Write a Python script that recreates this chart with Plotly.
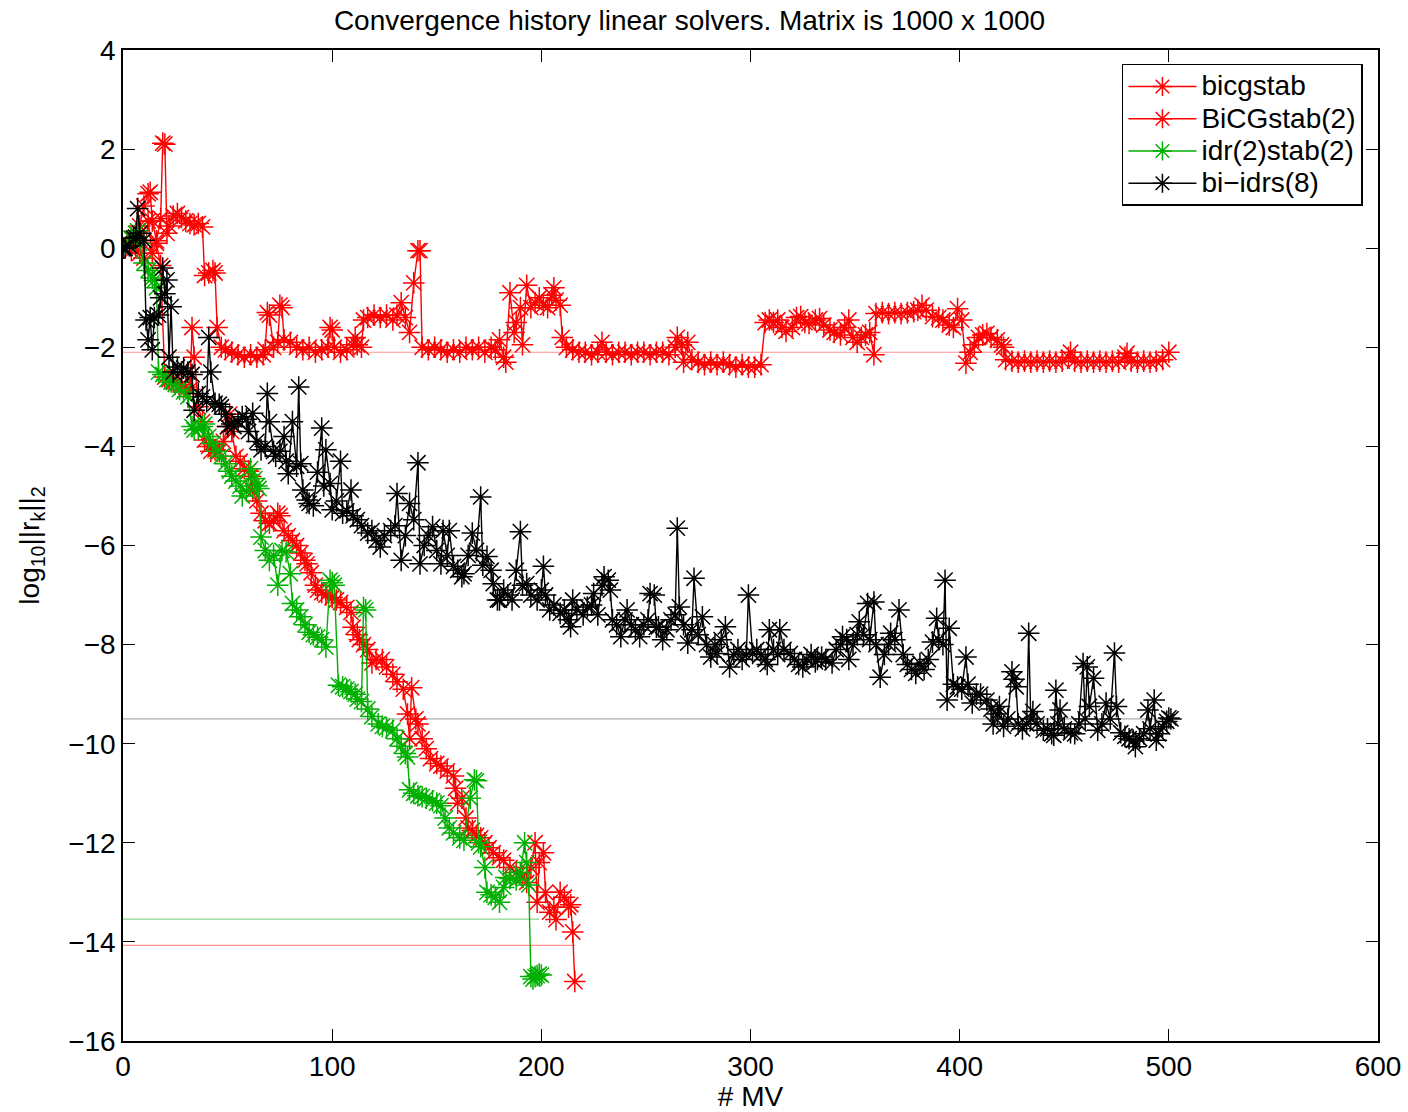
import plotly.graph_objects as go

# ---------------- data ----------------
bicgstab_mv = [0, 2, 4, 6, 8, 10, 12, 13, 14, 16, 18, 19, 20, 21, 22, 24, 26, 28, 30, 32, 34, 36, 38, 39, 41, 43, 44, 45, 47, 49,
               52, 55, 58, 61, 64, 67, 68, 69, 70, 72, 74, 75, 76, 77, 80, 83, 86, 89, 92, 95, 98, 99, 100, 101, 104, 107, 110, 111, 112, 114,
               115, 117, 120, 123, 126, 129, 131, 133, 135, 137, 139, 141, 142, 143, 146, 149, 152, 155, 158, 161, 164, 167, 170, 173, 176, 178, 180, 182, 183, 185,
               187, 188, 190, 191, 193, 195, 197, 199, 201, 203, 205, 206, 207, 209, 210, 212, 215, 218, 221, 224, 227, 229, 231, 234, 237, 240, 243, 246, 249, 252,
               255, 258, 261, 264, 265, 267, 268, 270, 272, 275, 278, 281, 284, 287, 290, 293, 296, 299, 302, 305, 307, 309, 311, 313, 315, 317, 320, 322, 324, 326,
               328, 331, 333, 335, 338, 340, 343, 345, 347, 349, 351, 353, 355, 357, 359, 360, 363, 366, 369, 372, 375, 378, 380, 382, 384, 387, 390, 392, 395, 397,
               399, 401, 403, 405, 407, 409, 411, 413, 415, 418, 420, 421, 422, 425, 428, 431, 434, 437, 440, 443, 446, 449, 452, 453, 455, 458, 461, 464, 467, 470,
               473, 476, 479, 480, 482, 485, 488, 491, 494, 497, 500]
bicgstab_res = [0.0, 0.1, -0.05, 0.15, 0.45, 0.85, 1.1, 1.13, 0.55, 0.15, 0.6, 2.12, 2.1, 0.3, 0.45, 0.65, 0.7, 0.62, 0.55, 0.5, 0.47, 0.5, 0.43, -0.55, -0.5, -0.45, -0.5, -1.6, -2.0, -2.05,
                -2.1, -2.15, -2.2, -2.15, -2.2, -2.15, -2.05, -1.3, -1.35, -2.0, -1.9, -1.15, -1.2, -1.85, -1.9, -2.0, -2.05, -2.0, -2.1, -2.05, -2.0, -1.6, -1.65, -2.0, -2.1, -2.05, -1.95, -1.8, -1.95, -2.0,
                -1.45, -1.4, -1.35, -1.4, -1.35, -1.45, -1.35, -1.1, -1.4, -1.7, -0.7, -0.05, -0.05, -2.0, -2.05, -2.0, -2.05, -2.1, -2.05, -2.1, -2.0, -2.05, -2.0, -2.1, -2.0, -2.05, -1.85, -2.2, -2.3, -0.9,
                -1.7, -1.5, -1.2, -1.95, -0.75, -1.2, -1.1, -1.0, -1.15, -1.2, -0.95, -0.8, -1.05, -1.15, -1.8, -2.0, -2.05, -2.1, -2.1, -2.15, -2.1, -1.9, -2.1, -2.15, -2.1, -2.1, -2.15, -2.1, -2.1, -2.15,
                -2.1, -2.1, -2.15, -2.0, -1.8, -1.95, -2.3, -1.9, -2.25, -2.3, -2.35, -2.3, -2.35, -2.3, -2.35, -2.4, -2.35, -2.4, -2.4, -2.35, -1.5, -1.45, -1.5, -1.45, -1.6, -1.68, -1.6, -1.4, -1.38, -1.5,
                -1.52, -1.45, -1.42, -1.55, -1.65, -1.7, -1.75, -1.6, -1.45, -1.8, -1.9, -1.8, -1.75, -1.7, -2.15, -1.32, -1.3, -1.32, -1.3, -1.32, -1.3, -1.28, -1.25, -1.15, -1.25, -1.38, -1.4, -1.45, -1.55, -1.6,
                -1.22, -1.45, -2.32, -2.1, -1.95, -1.8, -1.75, -1.72, -1.8, -1.85, -1.95, -2.0, -2.25, -2.28, -2.3, -2.28, -2.3, -2.28, -2.3, -2.28, -2.3, -2.28, -2.2, -2.1, -2.28, -2.3, -2.28, -2.3, -2.28, -2.3,
                -2.28, -2.3, -2.2, -2.12, -2.28, -2.3, -2.28, -2.3, -2.28, -2.25, -2.1]

bicg2_mv = [0, 2, 4, 6, 8, 10, 12, 14, 16, 18, 20, 22, 24, 26, 28, 30, 32, 33, 34, 36, 38, 39, 41, 42, 44, 46, 48, 50, 51, 52,
            54, 56, 58, 60, 61, 62, 64, 66, 68, 70, 72, 74, 75, 77, 79, 81, 83, 85, 87, 88, 90, 92, 93, 95, 97, 100, 102, 104, 107, 109,
            110, 112, 113, 115, 117, 119, 121, 124, 126, 129, 131, 134, 136, 137, 138, 140, 141, 143, 145, 147, 150, 152, 155, 158, 159, 160, 162, 164, 165, 167,
            169, 171, 173, 175, 177, 180, 182, 185, 188, 191, 193, 195, 197, 198, 199, 201, 202, 204, 206, 207, 209, 211, 213, 214, 215, 216]
bicg2_res = [0.0, 0.1, 0.2, 0.05, -0.1, -0.2, 0.55, -0.1, 0.1, -0.35, -2.6, -2.65, -2.7, -2.7, -2.75, -2.8, -2.85, -1.6, -2.2, -3.2, -3.5, -3.87, -4.0, -4.1, -4.07, -4.1, -3.9, -3.6, -3.35, -3.7,
             -4.2, -4.3, -4.45, -4.5, -4.6, -4.9, -5.1, -5.35, -5.5, -5.55, -5.5, -5.35, -5.4, -5.7, -5.8, -5.9, -6.0, -6.15, -6.3, -6.37, -6.55, -6.8, -6.9, -6.95, -7.0, -7.05, -7.1, -7.15, -7.25, -7.35,
             -7.65, -7.8, -7.9, -8.0, -8.1, -8.37, -8.3, -8.3, -8.45, -8.6, -8.75, -8.9, -9.4, -9.9, -8.87, -9.5, -9.6, -9.9, -10.1, -10.3, -10.4, -10.45, -10.55, -10.65, -10.9, -11.2, -11.1, -11.5, -11.7, -11.75,
             -11.85, -11.9, -12.0, -12.1, -12.2, -12.3, -12.35, -12.5, -12.6, -12.7, -12.8, -12.5, -12.0, -13.2, -12.4, -12.2, -13.0, -13.4, -13.3, -13.55, -13.0, -13.1, -13.3, -13.25, -13.8, -14.8]

idr_mv = [0, 2, 4, 6, 7, 8, 10, 12, 14, 15, 16, 17, 19, 21, 23, 25, 27, 29, 31, 33, 34, 36, 38, 39, 41, 43, 45, 47, 49, 51,
          52, 54, 56, 57, 59, 61, 63, 64, 65, 66, 68, 70, 72, 74, 76, 78, 80, 81, 83, 85, 87, 89, 91, 93, 95, 97, 99, 100, 101, 103,
          105, 107, 109, 111, 112, 114, 115, 116, 117, 119, 122, 124, 126, 129, 131, 133, 135, 136, 137, 139, 141, 143, 145, 148, 150, 152, 154, 156, 158, 161,
          163, 166, 168, 169, 170, 171, 173, 174, 176, 178, 180, 182, 183, 185, 188, 190, 192, 193, 194, 195, 196, 197, 198, 199, 200]
idr_res = [0.0, 0.1, 0.2, 0.3, 0.35, 0.1, -0.3, -0.45, -0.6, -0.65, -0.8, -2.5, -2.55, -2.65, -2.7, -2.75, -2.85, -2.9, -3.0, -3.6, -3.67, -3.65, -3.6, -3.55, -3.8, -3.94, -4.1, -4.2, -4.35, -4.5,
           -4.6, -4.7, -4.8, -5.0, -4.9, -4.45, -4.65, -4.8, -4.85, -5.83, -6.1, -6.3, -6.2, -6.8, -6.1, -6.13, -6.57, -7.17, -7.3, -7.44, -7.6, -7.75, -7.8, -7.85, -7.9, -8.05, -6.7, -6.75, -6.8, -8.82,
           -8.85, -8.9, -8.95, -9.0, -9.1, -9.15, -7.25, -7.3, -9.3, -9.45, -9.6, -9.65, -9.68, -9.73, -9.9, -10.05, -10.2, -10.27, -10.93, -11.0, -11.05, -11.07, -11.1, -11.15, -11.2, -11.25, -11.5, -11.7, -11.8, -11.9,
           -11.95, -11.1, -10.73, -10.75, -12.0, -12.08, -12.5, -13.0, -13.05, -13.1, -13.2, -12.9, -12.7, -12.72, -12.75, -12.6, -12.0, -12.4, -12.85, -14.7, -14.75, -14.7, -14.68, -14.65, -14.67]

biidrs_mv = [0, 1, 3, 5, 6, 7, 8, 10, 11, 12, 13, 14, 15, 17, 18, 19, 20, 21, 22, 23, 24, 26, 28, 29, 31, 33, 34, 36, 38, 40,
             41, 42, 44, 46, 47, 49, 50, 52, 53, 55, 57, 59, 60, 62, 64, 66, 68, 69, 70, 72, 73, 75, 77, 78, 79, 81, 83, 84, 85, 86,
             88, 89, 91, 93, 95, 96, 97, 99, 100, 102, 104, 105, 107, 109, 110, 112, 114, 117, 119, 121, 123, 125, 128, 130, 131, 133, 135, 137, 139, 141,
             142, 144, 146, 148, 150, 152, 153, 155, 156, 158, 160, 162, 163, 165, 167, 169, 171, 172, 174, 176, 177, 179, 180, 182, 184, 186, 188, 190, 191, 193,
             195, 198, 200, 201, 202, 204, 206, 209, 211, 213, 214, 215, 217, 220, 222, 224, 225, 227, 229, 230, 232, 233, 234, 236, 238, 240, 241, 243, 245, 247,
             249, 251, 252, 254, 255, 256, 258, 260, 262, 264, 265, 266, 268, 270, 272, 273, 275, 277, 279, 281, 283, 284, 286, 288, 290, 292, 294, 296, 298, 299,
             301, 303, 305, 307, 308, 309, 311, 313, 314, 316, 319, 321, 323, 325, 327, 329, 331, 332, 334, 336, 339, 341, 343, 344, 346, 347, 349, 351, 352, 354,
             356, 357, 359, 360, 362, 364, 366, 367, 369, 371, 373, 375, 377, 379, 381, 383, 385, 387, 389, 390, 392, 393, 394, 395, 397, 399, 401, 403, 404, 406,
             408, 410, 413, 415, 416, 418, 419, 421, 423, 425, 426, 427, 428, 430, 432, 433, 434, 435, 437, 440, 442, 444, 445, 446, 447, 448, 450, 453, 455, 457,
             459, 460, 461, 462, 464, 466, 468, 470, 472, 474, 475, 477, 479, 481, 483, 484, 486, 488, 490, 491, 493, 494, 495, 497, 499, 500, 501]
biidrs_res = [0.0, 0.0, 0.05, 0.2, 0.22, 0.8, 0.3, 0.16, -1.45, -1.85, -1.4, -2.05, -1.4, -1.35, -1.0, -0.4, -0.92, -0.64, -2.2, -1.18, -2.5, -2.4, -2.5, -2.42, -2.5, -2.55, -3.27, -2.93, -3.0, -3.1,
              -1.8, -2.5, -3.13, -3.15, -3.2, -3.35, -3.6, -3.55, -3.6, -3.5, -3.4, -3.45, -3.7, -3.33, -3.9, -4.07, -4.0, -2.93, -3.5, -4.1, -4.2, -4.1, -3.8, -4.3, -4.55, -3.5, -4.4, -2.8, -4.35, -4.88,
              -5.08, -5.15, -5.2, -4.52, -3.63, -4.8, -4.07, -4.75, -5.28, -5.1, -4.3, -5.35, -5.3, -4.88, -5.4, -5.48, -5.6, -5.75, -5.7, -5.9, -6.03, -5.8, -5.7, -5.6, -4.95, -6.3, -5.8, -5.15, -5.48, -4.33,
              -6.37, -6.0, -5.8, -5.62, -6.1, -6.37, -5.7, -6.2, -5.7, -6.42, -6.5, -6.63, -6.57, -6.2, -5.75, -6.1, -5.02, -6.4, -6.22, -6.5, -6.77, -7.1, -7.1, -6.9, -7.0, -7.1, -6.5, -5.72, -6.8, -6.77,
              -7.0, -7.1, -6.9, -6.42, -7.0, -7.3, -7.2, -7.37, -7.3, -7.5, -7.64, -7.1, -7.3, -7.4, -7.24, -7.2, -6.97, -7.4, -6.8, -6.63, -6.7, -6.9, -7.5, -7.6, -7.84, -7.5, -7.3, -7.6, -7.7, -7.84,
              -7.6, -7.5, -6.97, -7.0, -7.65, -7.64, -7.9, -7.7, -7.5, -7.4, -5.65, -7.24, -7.6, -7.97, -7.7, -6.66, -7.8, -7.44, -8.0, -8.25, -8.0, -8.18, -7.9, -7.64, -8.45, -8.2, -8.1, -8.3, -8.2, -7.0,
              -8.18, -8.1, -8.2, -8.3, -8.4, -7.7, -8.1, -8.2, -7.7, -8.1, -8.18, -8.3, -8.4, -8.45, -8.3, -8.2, -8.35, -8.3, -8.25, -8.3, -8.37, -8.1, -8.0, -7.84, -7.9, -8.3, -8.0, -7.8, -7.54, -7.8,
              -7.17, -7.9, -7.14, -8.0, -8.66, -8.2, -8.0, -7.77, -7.9, -7.3, -8.2, -8.4, -8.5, -8.58, -8.38, -8.5, -8.3, -7.95, -7.47, -7.9, -8.0, -6.7, -9.12, -7.67, -8.8, -8.85, -8.9, -8.25, -8.8, -9.18,
              -9.0, -9.0, -9.12, -9.3, -9.6, -9.4, -9.25, -9.65, -9.5, -8.55, -8.7, -8.85, -9.6, -9.7, -9.6, -7.77, -9.5, -9.35, -9.6, -9.73, -9.7, -9.8, -9.83, -8.92, -9.6, -9.32, -9.7, -9.78, -9.8, -9.6,
              -8.38, -9.5, -8.45, -9.25, -8.68, -9.73, -9.6, -9.18, -9.5, -8.17, -9.25, -9.78, -9.85, -9.9, -9.93, -10.06, -9.9, -9.8, -9.32, -9.7, -9.12, -9.93, -9.8, -9.66, -9.55, -9.48, -9.5]

# true-residual reference levels (thin lines)
ref_levels = [-2.1, -14.07, -13.54, -9.5]
ref_ends = [501, 216, 199, 501]
ref_colors = ["rgba(255,120,120,0.8)", "rgba(255,120,120,0.8)", "rgba(110,200,110,0.8)", "rgba(150,150,150,0.8)"]

names = ["bicgstab", "BiCGstab(2)", "idr(2)stab(2)", "bi\u2212idrs(8)"]
colors = ["#ff0000", "#ff0000", "#00b000", "#000000"]
xs = [bicgstab_mv, bicg2_mv, idr_mv, biidrs_mv]
ys = [bicgstab_res, bicg2_res, idr_res, biidrs_res]

x_ticks = [0, 100, 200, 300, 400, 500, 600]
y_ticks = [-16, -14, -12, -10, -8, -6, -4, -2, 0, 2, 4]

FONT = "Liberation Sans, Arial, Helvetica, sans-serif"
FS = 28
LEG_FS = 22.5   # controls legend row spacing; text itself drawn at FS

fig = go.Figure()

for lvl, xe, c in zip(ref_levels, ref_ends, ref_colors):
    fig.add_trace(go.Scatter(x=[0, xe], y=[lvl, lvl], mode="lines",
                             line=dict(color=c, width=1.2), showlegend=False, hoverinfo="skip"))

for x, y, n, c in zip(xs, ys, names, colors):
    fig.add_trace(go.Scatter(
        x=x, y=y, name=f'<span style="font-size:{FS}px">{n}</span>', mode="lines+markers",
        line=dict(color=c, width=1.4),
        marker=dict(symbol="asterisk-open", size=18, color=c,
                    line=dict(color=c, width=1.5)),
    ))

fig.update_layout(
    width=1408, height=1112,
    paper_bgcolor="white", plot_bgcolor="white",
    margin=dict(l=123, r=30, t=50, b=71),
    font=dict(family=FONT, size=FS, color="black"),
    title=dict(text="Convergence history linear solvers. Matrix is 1000 x 1000",
               x=0.4897, xanchor="center", xref="container",
               y=0.982, yanchor="middle", yref="container",
               font=dict(size=FS)),
    legend=dict(x=0.988, y=0.986, xanchor="right", yanchor="top",
                bgcolor="white", bordercolor="black", borderwidth=1.5,
                font=dict(size=LEG_FS), tracegroupgap=0, itemwidth=68),
    showlegend=True,
)

fig.update_xaxes(range=[0, 600], tickvals=x_ticks, ticks="inside", ticklen=12,
                 tickwidth=1, tickcolor="black", showline=True, linecolor="black",
                 linewidth=1.5, mirror="ticks", showgrid=False, zeroline=False,
                 automargin=False, tickfont=dict(size=FS),
                 title=dict(text="# MV", standoff=0, font=dict(size=FS)))
fig.update_yaxes(range=[-16, 4], tickvals=y_ticks, ticks="inside", ticklen=12,
                 tickwidth=1, tickcolor="black", showline=True, linecolor="black",
                 linewidth=1.5, mirror="ticks", showgrid=False, zeroline=False,
                 automargin=True, tickfont=dict(size=FS),
                 title=dict(text="log<sub>10</sub>||r<sub>k</sub>||<sub>2</sub>", standoff=20,
                            font=dict(size=FS)))

fig.write_html("out.html", config={"displayModeBar": False},
               post_script="document.body.style.margin='0px';")
